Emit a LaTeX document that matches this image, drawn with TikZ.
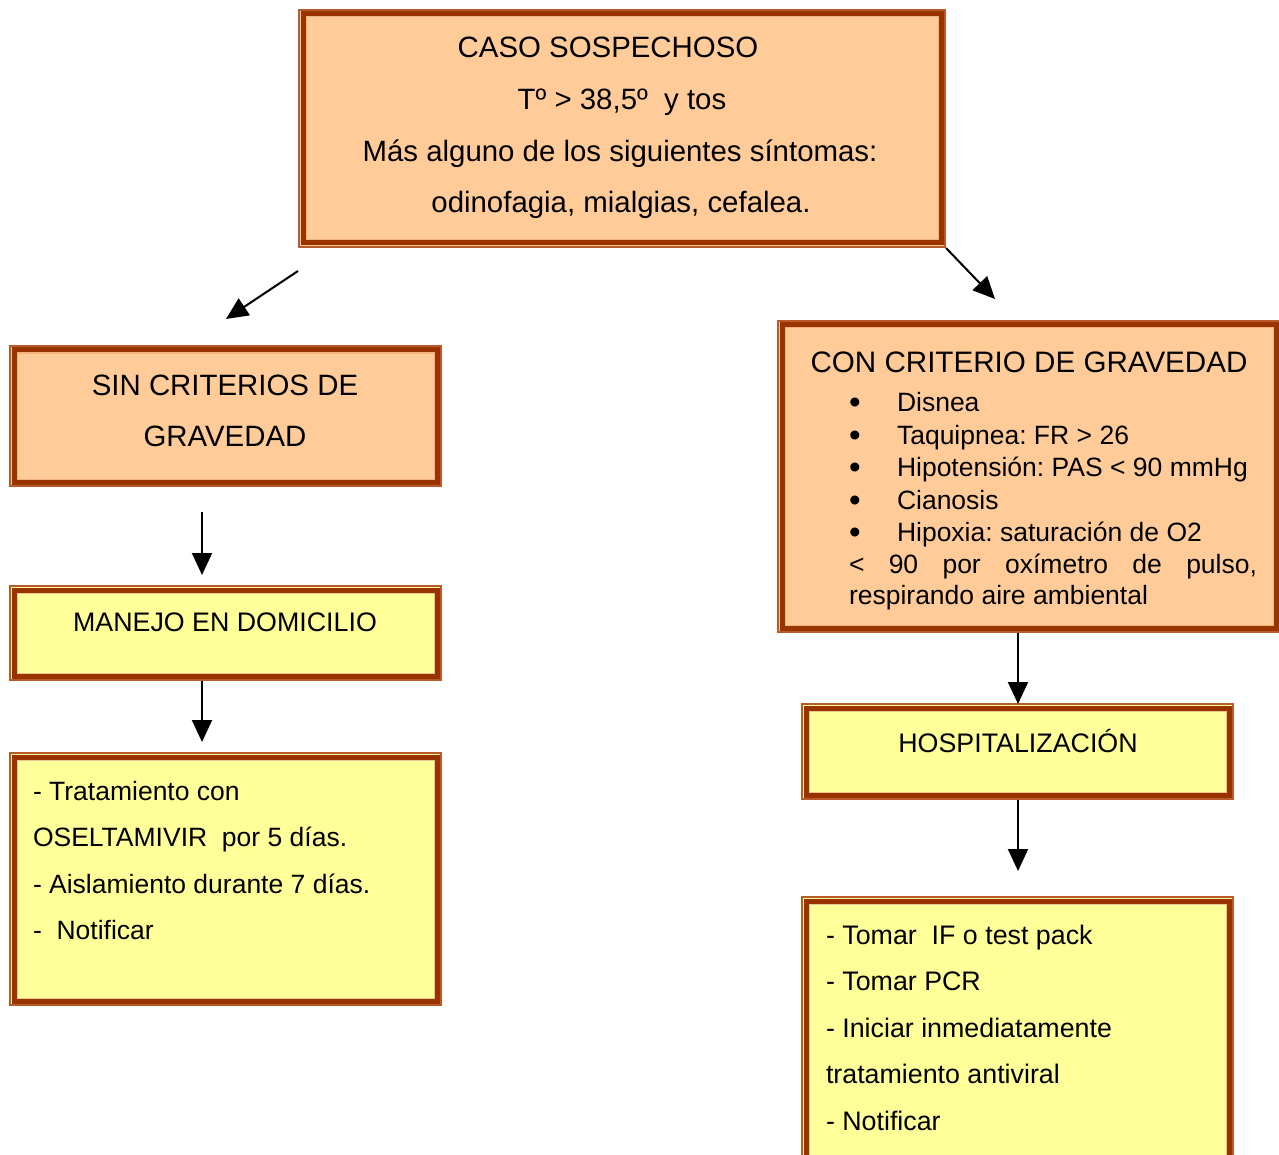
\documentclass[tikz,border=0pt]{standalone}
\usepackage{fontspec}
\setmainfont{Liberation Sans}
\frenchspacing
\usetikzlibrary{arrows.meta}
\definecolor{orf}{HTML}{FFCC99}
\definecolor{ylf}{HTML}{FFFF99}
\definecolor{brd}{HTML}{993300}
\definecolor{brdo}{HTML}{B85A2A}
\definecolor{orin}{HTML}{F5B37E}
\definecolor{ylin}{HTML}{E8C890}
\newcommand\frbox[7]{%
  \fill[#6] (#2,#3) rectangle (#4,#5);
  \draw[line width=1.6pt, brdo] (#2+0.8,#3+0.8) rectangle (#4-0.8,#5-0.8);
  \draw[line width=5pt, brd] (#2+5,#3+5) rectangle (#4-5,#5-5);
  \draw[line width=1pt, #7] (#2+8,#3+8) rectangle (#4-8,#5-8);
  \node[inner sep=0, outer sep=0, minimum width=#4-#2, minimum height=#5-#3] (#1) at ({(#2+#4)/2},{(#3+#5)/2}) {};
}
\newcommand\bul{\makebox[49pt][l]{\kern1pt\raisebox{-2.8pt}{\scalebox{1.25}{•}}}}
\tikzset{
  txt/.style={inner sep=0, outer sep=0, anchor=base, font=\fontsize{26.5}{32}\selectfont},
  ltxt/.style={txt, anchor=base west},
  big/.style={font=\fontsize{29.4}{34}\selectfont},
  mid/.style={font=\fontsize{26.8}{32}\selectfont},
  arr/.style={line width=2pt, -{Triangle[length=22pt,width=20pt]}},
}
\begin{document}
\begin{tikzpicture}[x=1pt,y=-1pt]
\useasboundingbox (0,0) rectangle (1279,1155);
\fill[white] (0,0) rectangle (1279,1155);

% boxes
\frbox{caso}{298}{9}{946}{248}{orf}{orin}
\frbox{sin}{9}{345}{442}{487}{orf}{orin}
\frbox{manejo}{9}{585}{442}{681}{ylf}{ylin}
\frbox{trat}{9}{752}{442}{1006}{ylf}{ylin}
\frbox{con}{777}{320}{1281}{633}{orf}{orin}
\frbox{hosp}{801}{703}{1234}{800}{ylf}{ylin}
\frbox{tomar}{801}{896}{1234}{1175}{ylf}{ylin}

% top box text
\node[txt, big] (t1) at (608,58) {CASO SOSPECHOSO};
\node[txt, big] (t2) at (622,110) {Tº > 38,5º\ \ y tos};
\node[txt, big] (t3) at (620,162) {Más alguno de los siguientes síntomas:};
\node[txt, big] (t4) at (621,213) {odinofagia, mialgias, cefalea.};

% sin criterios
\node[txt, big] (s1) at (225,395) {SIN CRITERIOS DE};
\node[txt, big] (s2) at (225,446) {GRAVEDAD};

% manejo
\node[txt, mid] (m1) at (225,631) {MANEJO EN DOMICILIO};

% tratamiento
\node[ltxt] (r1) at (33,800) {- Tratamiento con};
\node[ltxt] (r2) at (33,846) {OSELTAMIVIR\ \ por 5 días.};
\node[ltxt] (r3) at (33,893) {- Aislamiento durante 7 días.};
\node[ltxt] (r4) at (33,939) {-\ \ Notificar};

% con criterio
\node[txt, font=\fontsize{29.6}{34}\selectfont] (c0) at (1029,372) {CON CRITERIO DE GRAVEDAD};
\node[ltxt] (c1) at (848,411) {\bul Disnea};
\node[ltxt] (c2) at (848,444) {\bul Taquipnea: FR > 26};
\node[ltxt] (c3) at (848,476) {\bul Hipotensión: PAS < 90 mmHg};
\node[ltxt] (c4) at (848,509) {\bul Cianosis};
\node[ltxt] (c5) at (848,541) {\bul Hipoxia: saturación de O2};
\node[ltxt] (c6) at (849,573) {\makebox[408pt][s]{< 90 por oxímetro de pulso,}};
\node[ltxt] (c7) at (849,604) {respirando aire ambiental};

% hospitalizacion
\node[txt, mid] (h1) at (1018,752) {HOSPITALIZACIÓN};

% tomar
\node[ltxt, mid] (p1) at (826,944) {- Tomar\ \ IF o test pack};
\node[ltxt, mid] (p2) at (826,990) {- Tomar PCR};
\node[ltxt, mid] (p3) at (826,1037) {- Iniciar inmediatamente};
\node[ltxt, mid] (p4) at (826,1083) {tratamiento antiviral};
\node[ltxt, mid] (p5) at (826,1130) {- Notificar};

% arrow endpoints
\coordinate (a1s) at (298,271);
\coordinate (a1e) at (226,319);
\coordinate (a2s) at (caso.south east);
\coordinate (a2e) at (995,299);
\coordinate (a3s) at (202,512);
\coordinate (a3e) at (202,575);
\coordinate (a4s) at (202,681);
\coordinate (a4e) at (202,742);
\coordinate (a5s) at (1018,633);
\coordinate (a5e) at (1018,704);
\coordinate (a6s) at (1018,800);
\coordinate (a6e) at (1018,871);

\draw[arr] (a1s) -- (a1e);
\draw[arr] (a2s) -- (a2e);
\draw[arr] (a3s) -- (a3e);
\draw[arr] (a4s) -- (a4e);
\draw[arr] (a5s) -- (a5e);
\draw[arr] (a6s) -- (a6e);
\end{tikzpicture}
\end{document}
